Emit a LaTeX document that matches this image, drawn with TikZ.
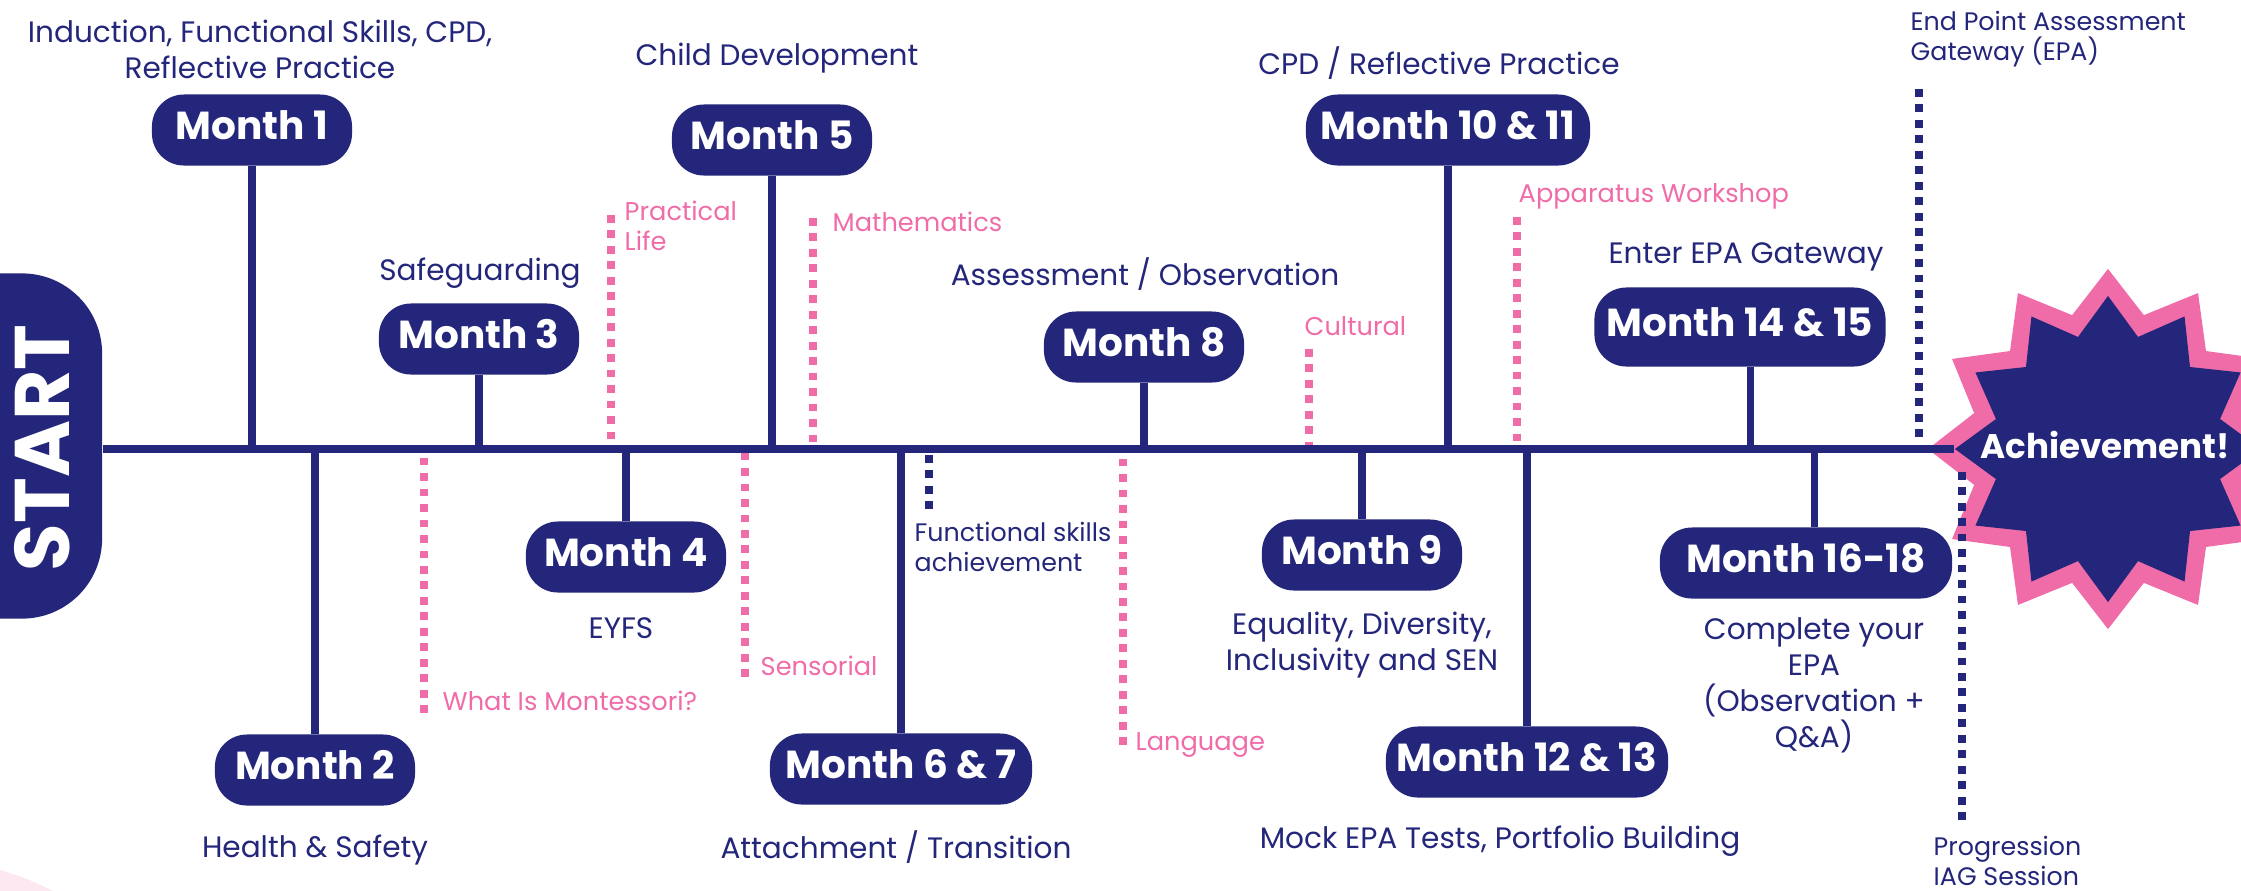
\documentclass[tikz,border=0pt]{standalone}
\usepackage{fontspec}
\setmainfont{Poppins}
\usetikzlibrary{shapes.geometric}

\definecolor{navy}{HTML}{23267A}
\definecolor{rose}{HTML}{F06CA8}
\definecolor{blush}{HTML}{FDE7F1}

\tikzset{
  month/.style={rectangle, rounded corners=0.32cm, fill=navy, text=white, inner sep=0pt,
    font=\bfseries\fontsize{11.1}{14}\selectfont, text height=8.2pt, text depth=2.9pt,
    minimum width=2cm, minimum height=0.71cm},
  topic/.style={text=navy, font=\fontsize{8.4}{10}\selectfont, align=center, inner sep=0pt},
  subject/.style={text=rose, font=\fontsize{7.3}{8.5}\selectfont, align=left, inner sep=0pt},
  note/.style={text=navy, font=\fontsize{7.2}{8.4}\selectfont, align=left, inner sep=0pt},
  startblock/.style={rectangle, rounded corners=0.8cm, fill=navy, minimum width=4cm, minimum height=3.45cm},
  starttext/.style={rotate=90, text=white, inner sep=0pt, font=\bfseries\fontsize{22}{22}\selectfont},
  burst/.style={star, star points=12, inner sep=0pt},
  burstlabel/.style={text=white, inner sep=0pt, font=\bfseries\fontsize{9.7}{12}\selectfont},
  stem/.style={navy, line width=2pt},
  mainline/.style={navy, line width=2.3pt},
  pinkdots/.style={rose, line width=2pt, dash pattern=on 2.2pt off 2.2pt},
  navydots/.style={navy, line width=2pt, dash pattern=on 2.2pt off 2.2pt}
}

\begin{document}
\begin{tikzpicture}[x=0.01cm, y=-0.01cm]
\useasboundingbox (0,0) rectangle (2241,890);
\fill[blush] (-80,1150) circle (2.91cm);
\coordinate (axis) at (0,449);
\coordinate (up) at (0,445);
\coordinate (dn) at (0,453);
\node[startblock] (start) at (-98,446){};
\node[starttext] (starttxt) at (42,448){START};
\node[burst, star point ratio=1.30, minimum size=3.6cm, fill=rose] (achvbg) at (2108,449){};
\node[burst, star point ratio=1.32, minimum size=3.06cm, fill=navy] (achv) at (2108,449){};
\draw[mainline] (start.east |- axis) -- (achv.west);
\node[burstlabel, anchor=base] (achvtxt) at (2105,458){Achievement!};

\node[month] (m1) at (252,130){Month 1};
\draw[stem] (m1.south) -- (m1.south |- axis);
\node[topic, anchor=base] (lbl1) at (260,78){Induction, Functional Skills, CPD,\\Reflective Practice};
\node[month] (m2) at (315,770){Month 2};
\draw[stem] (m2.north) -- (m2.north |- axis);
\node[topic, anchor=base] (lbl2) at (315,857){Health \& Safety};
\node[month] (m3) at (479,339){Month 3};
\draw[stem] (m3.south) -- (m3.south |- axis);
\node[topic, anchor=base] (lbl3) at (480,280){Safeguarding};
\node[month] (m4) at (626,557){Month 4};
\draw[stem] (m4.north) -- (m4.north |- axis);
\node[topic, anchor=base] (lbl4) at (621,638){EYFS};
\node[month] (m5) at (772,140){Month 5};
\draw[stem] (m5.south) -- (m5.south |- axis);
\node[topic, anchor=base] (lbl5) at (777,65){Child Development};
\node[month, minimum width=2.62cm] (m6) at (901,769){Month 6 \& 7};
\draw[stem] (m6.north) -- (m6.north |- axis);
\node[topic, anchor=base] (lbl6) at (896,858){Attachment / Transition};
\node[month] (m8) at (1144,347){Month 8};
\draw[stem] (m8.south) -- (m8.south |- axis);
\node[topic, anchor=base] (lbl8) at (1145,285){Assessment / Observation};
\node[month] (m9) at (1362,555){Month 9};
\draw[stem] (m9.north) -- (m9.north |- axis);
\node[topic, anchor=base] (lbl9) at (1362,670){Equality, Diversity,\\Inclusivity and SEN};
\node[month, minimum width=2.84cm] (m10) at (1448,130){Month 10 \& 11};
\draw[stem] (m10.south) -- (m10.south |- axis);
\node[topic, anchor=base] (lbl10) at (1439,74){CPD / Reflective Practice};
\node[month, minimum width=2.82cm] (m12) at (1527,762){Month 12 \& 13};
\draw[stem] (m12.north) -- (m12.north |- axis);
\node[topic, anchor=base] (lbl12) at (1500,848){Mock EPA Tests, Portfolio Building};
\node[month, minimum width=2.91cm, minimum height=0.79cm] (m14) at (1740,327){Month 14 \& 15};
\draw[stem] ([xshift=0.1cm]m14.south) -- ([xshift=0.1cm]m14.south |- axis);
\node[topic, anchor=base] (lbl14) at (1746,263){Enter EPA Gateway};
\node[month, minimum width=2.92cm] (m16) at (1806,563){Month 16-18};
\draw[stem] ([xshift=0.08cm]m16.north) -- ([xshift=0.08cm]m16.north |- axis);
\node[topic, anchor=base, font=\fontsize{8.4}{10.2}\selectfont] (lbl16) at (1814,747){Complete your\\EPA\\(Observation +\\Q\&A)};

\coordinate (plend) at (611,215);
\draw[pinkdots] (plend) -- (plend |- up);
\node[subject, anchor=base west] (pl) at (624,250){Practical\\Life};
\coordinate (wmend) at (424,713);
\draw[pinkdots] (wmend) -- (wmend |- dn);
\node[subject, anchor=base west] (wm) at (442,710){What Is Montessori?};
\coordinate (seend) at (745,677);
\draw[pinkdots] (seend) -- (seend |- dn);
\node[subject, anchor=base west] (se) at (760,675){Sensorial};
\coordinate (maend) at (813,218);
\draw[pinkdots] (maend) -- (maend |- up);
\node[subject, anchor=base west] (ma) at (832,231){Mathematics};
\coordinate (laend) at (1123,745);
\draw[pinkdots] (laend) -- (laend |- dn);
\node[subject, anchor=base west] (la) at (1135,750){Language};
\coordinate (cuend) at (1309,349);
\draw[pinkdots] (cuend) -- (cuend |- up);
\node[subject, anchor=base west] (cu) at (1304,335){Cultural};
\coordinate (awend) at (1517,217);
\draw[pinkdots] (awend) -- (awend |- up);
\node[subject, anchor=base west] (aw) at (1518,202){Apparatus Workshop};

\coordinate (fsend) at (929,509);
\draw[navydots] (fsend) -- (fsend |- dn);
\node[note, anchor=base west] (fs) at (914,571){Functional skills\\achievement};
\coordinate (epend) at (1919,89);
\draw[navydots] (epend) -- (epend |- up);
\node[note, anchor=base west] (ep) at (1910,60){End Point Assessment\\Gateway (EPA)};
\coordinate (prtop) at (1962,468);
\coordinate (prend) at (1962,820);
\draw[navydots] (prend) -- (prtop);
\node[note, anchor=base west] (pr) at (1933,885){Progression\\IAG Session};
\end{tikzpicture}
\end{document}
